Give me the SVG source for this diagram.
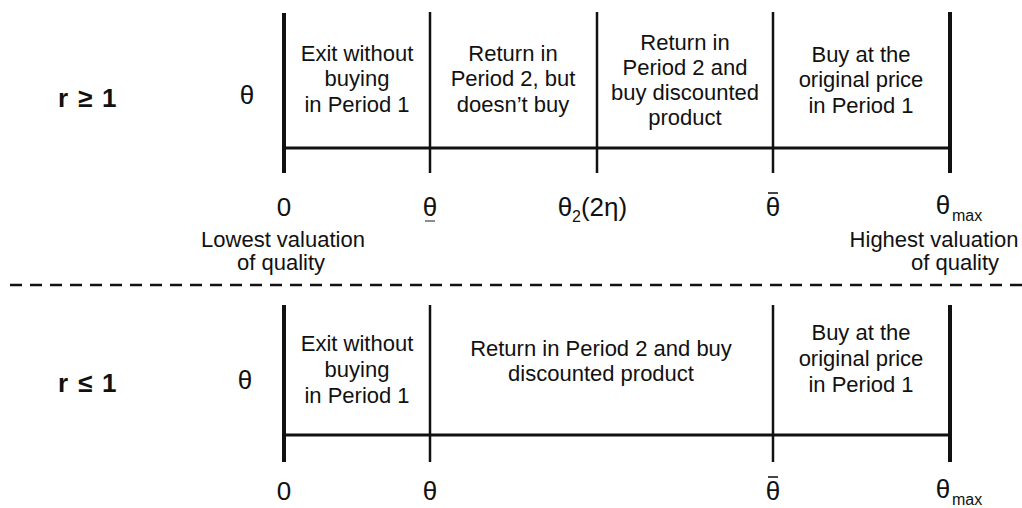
<svg xmlns="http://www.w3.org/2000/svg" width="1022" height="508" viewBox="0 0 1022 508">
<style>
.t{font-family:"Liberation Sans",Arial,sans-serif;font-size:22px;fill:#111;text-anchor:middle}
.m{font-family:"Liberation Sans",Arial,sans-serif;font-size:26px;fill:#111;text-anchor:middle}
.s{font-family:"Liberation Sans",Arial,sans-serif;font-size:16px;fill:#111}
.b{font-family:"Liberation Sans",Arial,sans-serif;font-size:26px;font-weight:bold;fill:#111}
.thick{stroke:#111;stroke-width:4;fill:none}
.thin{stroke:#111;stroke-width:2.5;fill:none}
.axis{stroke:#111;stroke-width:3;fill:none}
.acc{stroke:#666;stroke-width:1.5;fill:none}
.bar{stroke:#333;stroke-width:1.8;fill:none}
</style>
<rect width="1022" height="508" fill="#fff"/>
<g id="connectors">
  <line class="thick" x1="284" y1="13" x2="284" y2="173"/>
  <line class="thin" x1="430" y1="12" x2="430" y2="173"/>
  <line class="thin" x1="597" y1="12" x2="597" y2="173"/>
  <line class="thin" x1="773" y1="12" x2="773" y2="173"/>
  <line class="thick" x1="950" y1="12" x2="950" y2="173"/>
  <line class="axis" x1="284" y1="148" x2="950" y2="148"/>
  <line x1="10" y1="285" x2="1022" y2="285" stroke="#111" stroke-width="2.5" stroke-dasharray="12 8"/>
  <line class="thick" x1="284" y1="305" x2="284" y2="462"/>
  <line class="thin" x1="430" y1="305" x2="430" y2="462"/>
  <line class="thin" x1="773" y1="305" x2="773" y2="462"/>
  <line class="thick" x1="950" y1="305" x2="950" y2="462"/>
  <line class="axis" x1="284" y1="435" x2="950" y2="435"/>
</g>
<g id="top-row">
  <text class="b" x="58" y="107">r<tspan x="78">≥</tspan><tspan x="102">1</tspan></text>
  <text class="m" x="247" y="104">θ</text>
</g>
<g id="top-exit">
  <text class="t" x="357" y="61">Exit without</text>
  <text class="t" x="357" y="86">buying</text>
  <text class="t" x="357" y="112">in Period 1</text>
</g>
<g id="top-return-nobuy">
  <text class="t" x="513" y="61">Return in</text>
  <text class="t" x="513" y="86">Period 2, but</text>
  <text class="t" x="513" y="112">doesn’t buy</text>
</g>
<g id="top-return-buy">
  <text class="t" x="685" y="50">Return in</text>
  <text class="t" x="685" y="75">Period 2 and</text>
  <text class="t" x="685" y="100">buy discounted</text>
  <text class="t" x="685" y="125">product</text>
</g>
<g id="top-buy">
  <text class="t" x="861" y="62">Buy at the</text>
  <text class="t" x="861" y="87">original price</text>
  <text class="t" x="861" y="113">in Period 1</text>
</g>
<g id="top-axis-labels">
  <text class="m" x="284" y="216">0</text>
  <text class="m" x="430" y="216">θ</text>
  <line class="acc" x1="425" y1="221" x2="435" y2="221"/>
  <text class="m" x="565" y="216">θ</text>
  <text class="s" x="572" y="222">2</text>
  <text class="m" x="604" y="216">(2η)</text>
  <text class="m" x="773" y="216">θ</text>
  <line class="bar" x1="768" y1="193" x2="778" y2="193"/>
  <text class="m" x="943" y="214">θ</text>
  <text class="s" x="952" y="221">max</text>
  <text class="t" x="283" y="247">Lowest valuation</text>
  <text class="t" x="281" y="270">of quality</text>
  <text class="t" x="934" y="247">Highest valuation</text>
  <text class="t" x="955" y="270">of quality</text>
</g>
<g id="bottom-row">
  <text class="b" x="58" y="392">r<tspan x="78">≤</tspan><tspan x="102">1</tspan></text>
  <text class="m" x="245" y="389">θ</text>
</g>
<g id="bottom-exit">
  <text class="t" x="357" y="351">Exit without</text>
  <text class="t" x="357" y="377">buying</text>
  <text class="t" x="357" y="403">in Period 1</text>
</g>
<g id="bottom-return">
  <text class="t" x="601" y="356">Return in Period 2 and buy</text>
  <text class="t" x="601" y="381">discounted product</text>
</g>
<g id="bottom-buy">
  <text class="t" x="861" y="340">Buy at the</text>
  <text class="t" x="861" y="366">original price</text>
  <text class="t" x="861" y="392">in Period 1</text>
</g>
<g id="bottom-axis-labels">
  <text class="m" x="284" y="500">0</text>
  <text class="m" x="430" y="500">θ</text>
  <text class="m" x="773" y="500">θ</text>
  <line class="bar" x1="768" y1="477" x2="778" y2="477"/>
  <text class="m" x="943" y="498">θ</text>
  <text class="s" x="952" y="505">max</text>
</g>
</svg>
